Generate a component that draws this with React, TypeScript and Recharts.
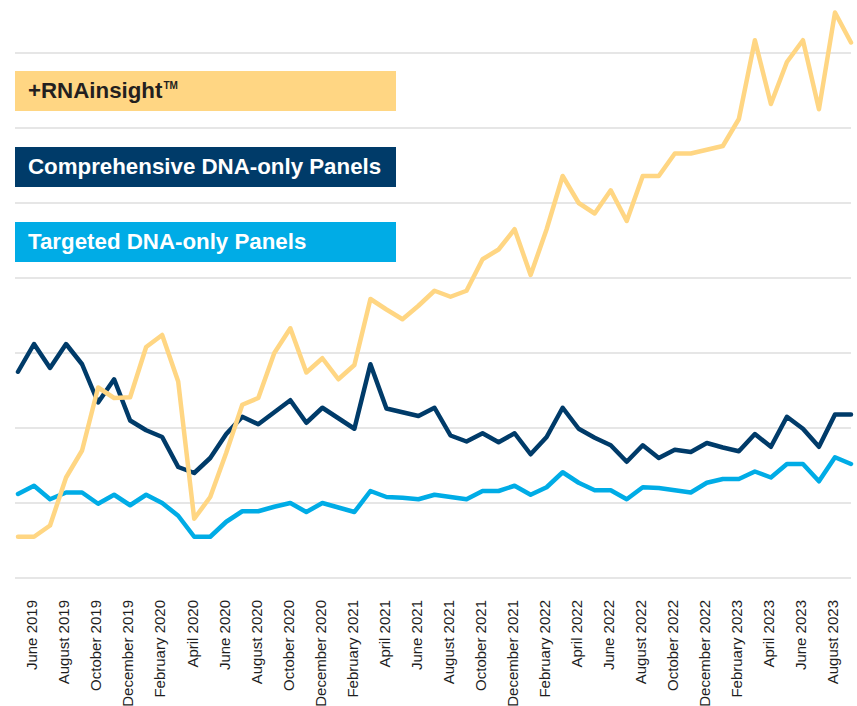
import React from "react"
import { LineChart, Line, XAxis, YAxis, CartesianGrid } from "recharts"

// monthly, May 2019 .. September 2023
const months = [
  "May 2019", "June 2019", "July 2019", "August 2019", "September 2019", "October 2019", "November 2019", "December 2019",
  "January 2020", "February 2020", "March 2020", "April 2020", "May 2020", "June 2020", "July 2020", "August 2020",
  "September 2020", "October 2020", "November 2020", "December 2020",
  "January 2021", "February 2021", "March 2021", "April 2021", "May 2021", "June 2021", "July 2021", "August 2021",
  "September 2021", "October 2021", "November 2021", "December 2021",
  "January 2022", "February 2022", "March 2022", "April 2022", "May 2022", "June 2022", "July 2022", "August 2022",
  "September 2022", "October 2022", "November 2022", "December 2022",
  "January 2023", "February 2023", "March 2023", "April 2023", "May 2023", "June 2023", "July 2023", "August 2023",
  "September 2023",
]

const rnaInsight = [
  5.5, 5.5, 7.0, 13.4, 17.0, 25.4, 24.0, 24.1, 30.8, 32.4, 26.2, 7.9, 10.8, 16.7, 23.1, 24.0,
  30.0, 33.3, 27.4, 29.3, 26.5, 28.4, 37.2, 35.8, 34.5, 36.3, 38.3, 37.5, 38.3, 42.5, 43.8, 46.5,
  40.4, 46.5, 53.6, 50.0, 48.6, 51.7, 47.6, 53.6, 53.6, 56.6, 56.6, 57.1, 57.6, 61.2, 71.7, 63.2,
  68.8, 71.7, 62.5, 75.4, 71.4,
]

const comprehensiveDna = [
  27.5, 31.2, 28.0, 31.2, 28.5, 23.4, 26.5, 21.0, 19.7, 18.8, 14.8, 14.0, 16.0, 19.2, 21.5, 20.5,
  22.1, 23.7, 20.7, 22.7, 21.3, 19.9, 28.5, 22.6, 22.1, 21.6, 22.7, 19.0, 18.2, 19.3, 18.1, 19.3,
  16.5, 18.8, 22.7, 19.9, 18.7, 17.7, 15.5, 17.7, 16.0, 17.1, 16.8, 18.0, 17.4, 16.9, 19.2, 17.5,
  21.5, 19.9, 17.5, 21.8, 21.8,
]

const targetedDna = [
  11.2, 12.3, 10.5, 11.4, 11.4, 9.9, 11.1, 9.7, 11.1, 10.0, 8.3, 5.5, 5.5, 7.5, 8.9, 8.9,
  9.5, 10.0, 8.8, 10.0, 9.4, 8.8, 11.6, 10.8, 10.7, 10.5, 11.1, 10.8, 10.5, 11.6, 11.6, 12.3,
  11.1, 12.1, 14.1, 12.7, 11.7, 11.7, 10.5, 12.1, 12.0, 11.7, 11.4, 12.7, 13.2, 13.2, 14.2, 13.4,
  15.2, 15.2, 12.9, 16.1, 15.2,
]

const yTicks = [0, 10, 20, 30, 40, 50, 60, 70]

const series = [
  { key: "rna", name: "+RNAinsight", mark: "TM", color: "#FFD683", text: "#231F20", values: rnaInsight },
  { key: "comp", name: "Comprehensive DNA-only Panels", mark: "", color: "#003B69", text: "#FFFFFF", values: comprehensiveDna },
  { key: "targ", name: "Targeted DNA-only Panels", mark: "", color: "#00ACE6", text: "#FFFFFF", values: targetedDna },
]

const data = months.map((m, i) => ({
  month: m,
  rna: rnaInsight[i],
  comp: comprehensiveDna[i],
  targ: targetedDna[i],
}))

function MonthTick({ x, y, payload, index }: any) {
  if (index % 2 === 0) return <g />
  return (
    <text
      x={x}
      y={y}
      transform={`rotate(-90, ${x}, ${y})`}
      textAnchor="end"
      dy="0.22em"
      fontSize={15}
      fontFamily="'Liberation Sans', Arial, sans-serif"
      fill="#1E1E1E"
    >
      {payload.value}
    </text>
  )
}

export default function App() {
  return (
    <div style={{ position: "absolute", left: 0, top: 0, width: 857, height: 706, background: "#fff" }}>
      <LineChart width={857} height={706} data={data} margin={{ top: 8, right: 6, left: 15, bottom: 0 }}>
        <CartesianGrid vertical={false} horizontalValues={yTicks} stroke="#E6E6E6" strokeWidth={2} />
        <XAxis
          dataKey="month"
          axisLine={false}
          tickLine={false}
          interval={0}
          height={128}
          padding={{ left: 3, right: 0 }}
          tickSize={6}
          tickMargin={16}
          tick={<MonthTick />}
        />
        <YAxis hide type="number" domain={[0, 76]} ticks={yTicks} />
        {[...series].reverse().map((s) => (
          <Line
            key={s.key}
            dataKey={s.key}
            type="linear"
            stroke={s.color}
            strokeWidth={4.5}
            strokeLinejoin="round"
            strokeLinecap="round"
            dot={false}
            activeDot={false}
            isAnimationActive={false}
          />
        ))}
      </LineChart>
      {series.map((s, i) => (
        <div
          key={s.key}
          style={{
            position: "absolute",
            left: 15,
            top: 71 + i * 75.5,
            width: 381,
            height: 40,
            lineHeight: "40px",
            background: s.color,
            color: s.text,
            paddingLeft: 13,
            boxSizing: "border-box",
            fontFamily: "'Liberation Sans', Arial, sans-serif",
            fontWeight: 700,
            fontSize: 22.3,
            whiteSpace: "nowrap",
          }}
        >
          {s.name}
          {s.mark && (
            <span style={{ fontSize: 10, position: "relative", top: -9, marginLeft: 1 }}>{s.mark}</span>
          )}
        </div>
      ))}
    </div>
  )
}
